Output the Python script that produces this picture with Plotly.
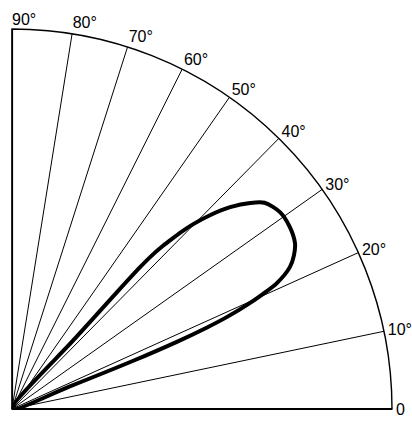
import numpy as np
import plotly.graph_objects as go

# Angular scale: labelled elevation angles and the direction at which each is ruled
tick_labels = ["0", "10°", "20°", "30°", "40°", "50°", "60°", "70°", "80°", "90°"]
tick_values = [0, 10, 20, 30, 40, 50, 60, 70, 80, 90]
tick_directions = [0, 11.8, 24.3, 35.3, 45.4, 55.1, 63.4, 72.3, 80.9, 90]

# Radiation lobe (relative field strength vs. elevation angle)
lobe_angle = [17.4, 17.6, 17.9, 18.3, 18.7, 19.1, 19.7, 20.3, 21.0, 22.5, 23.9,
              25.5, 28.1, 31.0, 33.9, 35.5, 37.4, 39.0, 40.2, 40.9, 41.5, 41.95,
              42.35, 42.6, 42.75, 42.9, 43.0]
lobe_level = [0.0, 0.16, 0.34, 0.47, 0.555, 0.616, 0.679, 0.726, 0.771, 0.821, 0.845,
              0.863, 0.874, 0.875, 0.858, 0.829, 0.782, 0.729, 0.68, 0.645, 0.608, 0.58,
              0.545, 0.50, 0.40, 0.25, 0.0]

R_MAX = 1.0
LABEL_FONT = dict(family="Liberation Sans", size=16, color="black")


def to_direction(angle):
    return np.interp(angle, tick_values, tick_directions)


fig = go.Figure()

# left edge of the quadrant (90° ray)
fig.add_trace(go.Scatterpolar(
    r=[0, R_MAX], theta=[tick_directions[-1]] * 2, mode="lines",
    line=dict(color="black", width=2.2), hoverinfo="skip", showlegend=False,
))

# the 90° label sits to the right of the ray's end
fig.add_trace(go.Scatterpolar(
    r=[R_MAX], theta=[tick_directions[-1]], mode="text", text=[tick_labels[-1]],
    textposition="top right", textfont=LABEL_FONT, cliponaxis=False,
    hoverinfo="skip", showlegend=False,
))

fig.add_trace(go.Scatterpolar(
    r=lobe_level, theta=to_direction(lobe_angle), mode="lines",
    line=dict(color="black", width=4, shape="spline", smoothing=0.8),
    showlegend=False,
))

W, H = 412, 425
ox, oy, rad = 12, 409, 380
fig.update_layout(
    width=W, height=H,
    margin=dict(l=0, r=0, t=0, b=0),
    paper_bgcolor="white",
    polar=dict(
        domain=dict(x=[ox / W, (ox + rad) / W], y=[(H - oy) / H, (H - oy + rad) / H]),
        sector=[0, 90],
        bgcolor="white",
        radialaxis=dict(range=[0, R_MAX], showgrid=False, showticklabels=False, ticks="",
                        showline=True, linecolor="black", linewidth=2.2, angle=0),
        angularaxis=dict(direction="counterclockwise", rotation=0,
                         tickmode="array", tickvals=tick_directions,
                         ticktext=tick_labels[:-1] + [""],
                         ticks="", showgrid=True, gridcolor="black", gridwidth=1.2,
                         showline=True, linecolor="black", linewidth=1.4,
                         tickfont=LABEL_FONT),
    ),
)

fig.write_html("out.html")
